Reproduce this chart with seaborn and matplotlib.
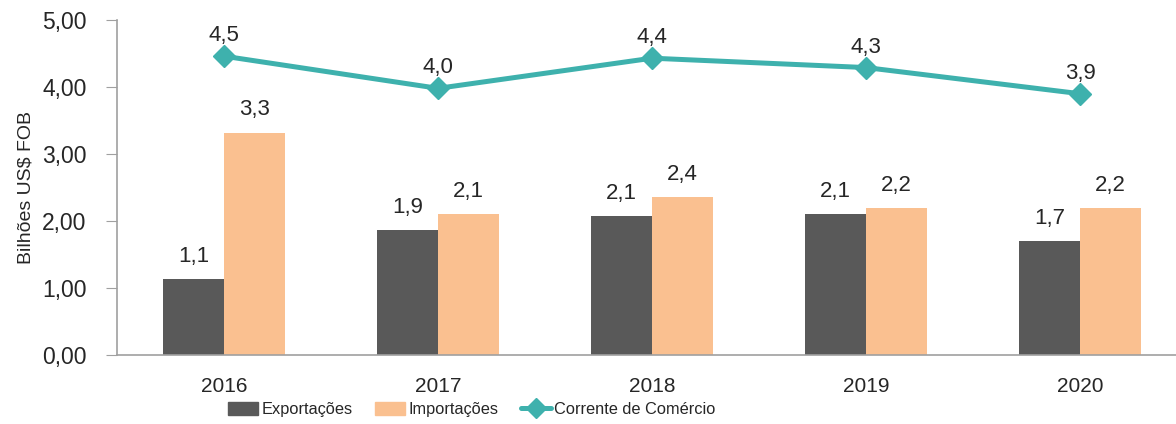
import pandas as pd
import matplotlib.pyplot as plt
import seaborn as sns
from matplotlib.patches import Patch
from matplotlib.lines import Line2D

anos = ['2016', '2017', '2018', '2019', '2020']
exportacoes = [1.13, 1.87, 2.07, 2.10, 1.70]
importacoes = [3.32, 2.10, 2.36, 2.19, 2.20]
corrente = [4.46, 3.98, 4.43, 4.29, 3.90]

sns.set_style('white')
plt.rcParams['font.family'] = ['Liberation Sans', 'DejaVu Sans']

df = pd.DataFrame({
    'ano': anos * 2,
    'valor': exportacoes + importacoes,
    'serie': ['Exportações'] * 5 + ['Importações'] * 5,
})

cor_exp = '#595959'
cor_imp = '#FAC090'
cor_cor = '#3EB1AD'

fig = plt.figure(figsize=(11.76, 4.24), dpi=100)
ax = fig.add_axes([117 / 1176, 69 / 424, 1070 / 1176, 335 / 424])

sns.barplot(data=df, x='ano', y='valor', hue='serie', order=anos,
            hue_order=['Exportações', 'Importações'],
            palette=[cor_exp, cor_imp], width=0.57, saturation=1,
            edgecolor='none', ax=ax, legend=False)

ax.plot(range(len(anos)), corrente, color=cor_cor, lw=3.6, marker='D',
        markersize=11, zorder=5)

# rótulos de dados
off = 0.57 / 4
fs_lbl = 16
for i in range(len(anos)):
    ax.text(i - off, exportacoes[i] + 0.18, f'{exportacoes[i]:.1f}'.replace('.', ','),
            ha='center', va='bottom', fontsize=fs_lbl)
    ax.text(i + off, importacoes[i] + 0.18, f'{importacoes[i]:.1f}'.replace('.', ','),
            ha='center', va='bottom', fontsize=fs_lbl)
    ax.text(i, corrente[i] + 0.15, f'{corrente[i]:.1f}'.replace('.', ','),
            ha='center', va='bottom', fontsize=fs_lbl)

ax.set_xlim(-0.5, 4.5)
ax.set_ylim(0, 5)
ax.set_yticks([0, 1, 2, 3, 4, 5])
ax.set_yticklabels([f'{v:.2f}'.replace('.', ',') for v in range(6)])
ax.set_xlabel('')
ax.set_ylabel('Bilhões US$ FOB', fontsize=14, labelpad=5)
ax.tick_params(axis='y', labelsize=16.5, length=8, color='#A0A0A0', left=True, pad=14)
ax.tick_params(axis='x', labelsize=15, length=0, pad=16)
sns.despine(ax=ax, top=True, right=True)
for s in ['left', 'bottom']:
    ax.spines[s].set_color('#A0A0A0')
    ax.spines[s].set_linewidth(1.2)

handles = [Patch(color=cor_exp, label='Exportações'),
           Patch(color=cor_imp, label='Importações'),
           Line2D([], [], color=cor_cor, lw=3.6, marker='D', markersize=10,
                  label='Corrente de Comércio')]
fig.legend(handles=handles, loc='lower left', bbox_to_anchor=(217 / 1176, -0.01),
           ncol=3, frameon=False, fontsize=11.8, handlelength=1.8, handleheight=0.85,
           handletextpad=0.2, columnspacing=1.4, borderpad=0.2)

fig.savefig('out.png', dpi=100)
